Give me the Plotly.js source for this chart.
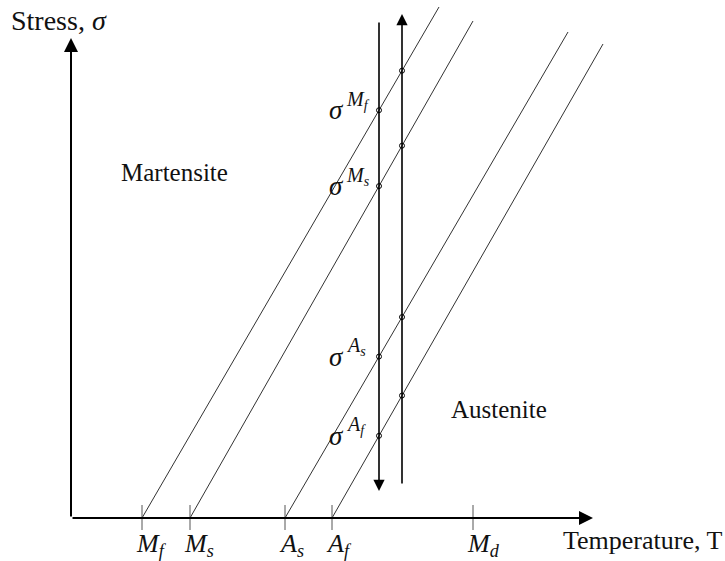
<!DOCTYPE html>
<html>
<head>
<meta charset="utf-8">
<script src="https://cdn.plot.ly/plotly-3.0.1.min.js"></script>
<style>html,body{margin:0;padding:0;background:#fff;}#chart{width:725px;height:561px;}</style>
</head>
<body>
<div id="chart"></div>
<script>
// Transformation temperatures on the T axis (arbitrary units)
const tickNames = ['Mf', 'Ms', 'As', 'Af', 'Md'];
const tickT = [71, 119, 214, 261, 402];
const tickLabels = [
  '<i>M</i><sub><i>f</i></sub>',
  '<i>M</i><sub><i>s</i></sub>',
  '<i>A</i><sub><i>s</i></sub>',
  '<i>A</i><sub><i>f</i></sub>',
  '<i>M</i><sub><i>d</i></sub>'
];
// Upper ends of the four transformation lines
const lineTopT = [368, 402, 497, 532];
const lineTopS = [511, 497, 486, 474];
// Loading paths (vertical arrows)
const downPathT = 308, downPathTop = 497, downPathTip = 27;
const upPathT = 331, upPathBottom = 33, upPathTip = 504;
// Axis extents
const axisTipT = 522, axisTipS = 480;
const sigmaSup = ['M', 'M', 'A', 'A'];
const sigmaSub = ['f', 's', 's', 'f'];

const FONT = '"Liberation Serif", "Times New Roman", serif';
const traces = [];

// four transformation lines
for (let i = 0; i < 4; i++) {
  traces.push({
    type: 'scatter', mode: 'lines',
    x: [tickT[i], lineTopT[i]], y: [0, lineTopS[i]],
    line: {color: '#333', width: 1}, hoverinfo: 'skip'
  });
}
// tick marks
const tx = [], ty = [];
tickT.forEach(t => { tx.push(t, t, null); ty.push(13, -12, null); });
traces.push({type: 'scatter', mode: 'lines', x: tx, y: ty,
  line: {color: '#555', width: 1}, hoverinfo: 'skip'});

// intersection markers
function sigmaAt(i, T) {
  return lineTopS[i] * (T - tickT[i]) / (lineTopT[i] - tickT[i]);
}
const mx = [], my = [];
[downPathT, upPathT].forEach(T => {
  for (let i = 0; i < 4; i++) { mx.push(T); my.push(sigmaAt(i, T)); }
});
traces.push({type: 'scatter', mode: 'markers', x: mx, y: my,
  marker: {symbol: 'circle-open', size: 5, color: '#000', line: {width: 1, color: '#000'}},
  hoverinfo: 'skip'});

const annotations = [];
function arrow(x0, y0, x1, y1, w) {
  annotations.push({x: x1, y: y1, ax: x0, ay: y0, xref: 'x', yref: 'y', axref: 'x', ayref: 'y',
    text: '', showarrow: true, arrowhead: 2, arrowsize: 1.4, arrowwidth: w, arrowcolor: '#000', standoff: 0});
}
arrow(0, 0, 0, axisTipS, 2);
arrow(0, 0, axisTipT, 0, 2);
arrow(downPathT, downPathTop, downPathT, downPathTip, 1.6);
arrow(upPathT, upPathBottom, upPathT, upPathTip, 1.6);

function label(text, x, y, xanchor, size, xshift, yshift) {
  annotations.push({x: x, y: y, xref: 'x', yref: 'y', text: text, showarrow: false,
    xanchor: xanchor, yanchor: 'middle', xshift: xshift || 0, yshift: yshift || 0,
    font: {family: FONT, size: size, color: '#111'}});
}
tickT.forEach((t, i) => label(tickLabels[i], t, -27, 'left', 26, -8));
for (let i = 0; i < 4; i++) {
  const s = sigmaAt(i, downPathT);
  label('<i>σ</i>', downPathT, s, 'right', 27, -33, 0);
  label('<i>' + sigmaSup[i] + '</i><sub><i>' + sigmaSub[i] + '</i></sub>',
    downPathT, s, 'left', 20, -35, 10);
}
label('Stress, <i>σ</i>', -62, 498, 'left', 28);
label('Martensite', 48, 346, 'left', 25);
label('Austenite', 378, 109, 'left', 25);
label('Temperature, T', 490, -22, 'left', 26);

const layout = {
  width: 725, height: 561,
  margin: {l: 0, r: 0, t: 0, b: 0},
  paper_bgcolor: '#fff', plot_bgcolor: '#fff',
  showlegend: false,
  font: {family: FONT},
  xaxis: {range: [-71, 654], visible: false, fixedrange: true},
  yaxis: {range: [-43, 518], visible: false, fixedrange: true},
  annotations: annotations
};
Plotly.newPlot('chart', traces, layout, {displayModeBar: false, staticPlot: true});
</script>
</body>
</html>
